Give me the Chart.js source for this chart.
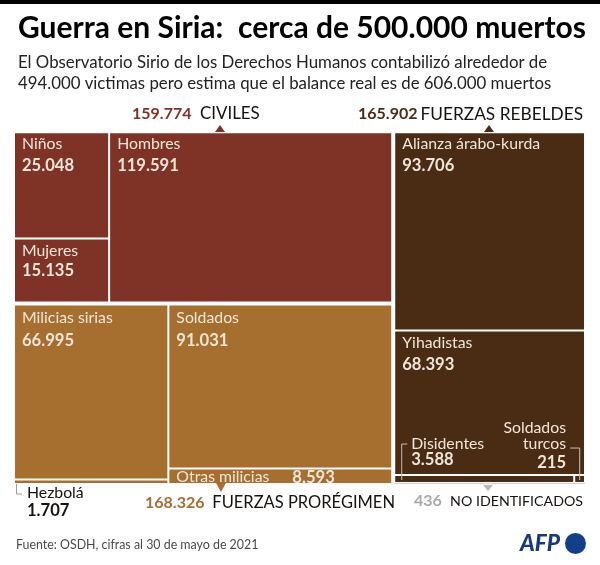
<!DOCTYPE html>
<html lang="es"><head><meta charset="utf-8">
<style>html,body{margin:0;padding:0;background:#fff}canvas{display:block}</style>
<script src="https://cdn.jsdelivr.net/npm/chart.js@4/dist/chart.umd.js"></script>
</head><body><canvas id="c" width="600" height="565"></canvas>
<script>
const titleText = 'Guerra en Siria:  cerca de 500.000 muertos';
const subtitleLines = ['El Observatorio Sirio de los Derechos Humanos contabilizó alrededor de',
                       '494.000 victimas pero estima que el balance real es de 606.000 muertos'];
const sourceText = 'Fuente: OSDH, cifras al 30 de mayo de 2021';

const civilesLabels = ['Niños', 'Mujeres', 'Hombres'];
const civilesValues = [25048, 15135, 119591];
const proregimenLabels = ['Milicias sirias', 'Soldados', 'Otras milicias', 'Hezbolá'];
const proregimenValues = [66995, 91031, 8593, 1707];
const rebeldesLabels = ['Alianza árabo-kurda', 'Yihadistas', 'Disidentes', 'Soldados turcos'];
const rebeldesValues = [93706, 68393, 3588, 215];
const noIdentLabels = ['No identificados'];
const noIdentValues = [436];

const sum = a => a.reduce((s, v) => s + v, 0);
const fmt = v => String(v).replace(/\B(?=(\d{3})+$)/g, '.');

/* slice helpers: the treemap geometry comes only from the values */
const hcut = (r, f) => [{x0:r.x0, x1:r.x0+(r.x1-r.x0)*f, y0:r.y0, y1:r.y1}, {x0:r.x0+(r.x1-r.x0)*f, x1:r.x1, y0:r.y0, y1:r.y1}];
const vcut = (r, f) => [{x0:r.x0, x1:r.x1, y0:r.y0, y1:r.y0+(r.y1-r.y0)*f}, {x0:r.x0, x1:r.x1, y0:r.y0+(r.y1-r.y0)*f, y1:r.y1}];
const GX = 1/573, GY = 1/355;                 /* white gutter around each group */
const inset = r => ({x0:r.x0+GX, x1:r.x1-GX, y0:r.y0+GY, y1:r.y1-GY});

const [C, P, R, N] = [sum(civilesValues), sum(proregimenValues), sum(rebeldesValues), sum(noIdentValues)];
const [leftR, rightR] = hcut({x0:0, x1:1, y0:0, y1:1}, (C+P)/(C+P+R+N));
const [civO, proO] = vcut(leftR, C/(C+P));
const civR = inset(civO), proR = inset(proO), rightI = inset(rightR);
const [rebR, nidR] = vcut(rightI, R/(R+N));

const [cv1, hombresR] = hcut(civR, (civilesValues[0]+civilesValues[1])/C);
const [ninosR, mujeresR] = vcut(cv1, civilesValues[0]/(civilesValues[0]+civilesValues[1]));

const milHez = proregimenValues[0]+proregimenValues[3];
const [pc1, pc2] = hcut(proR, milHez/P);
const [milR, hezR] = vcut(pc1, proregimenValues[0]/milHez);
const [solR, otrR] = vcut(pc2, proregimenValues[1]/(proregimenValues[1]+proregimenValues[2]));

const [aliR, rb2] = vcut(rebR, rebeldesValues[0]/R);
const [yihR, rb3] = vcut(rb2, rebeldesValues[1]/(R-rebeldesValues[0]));
const [disR, turR] = hcut(rb3, rebeldesValues[2]/(rebeldesValues[2]+rebeldesValues[3]));

class TreemapController extends Chart.DatasetController {
  update(mode){ const m=this._cachedMeta; this.updateElements(m.data,0,m.data.length,mode); }
  updateElements(rects,start,count,mode){
    const m=this._cachedMeta, xs=m.xScale, ys=m.yScale, data=this.getDataset().data;
    for(let i=start;i<start+count;i++){
      const d=data[i], l=xs.getPixelForValue(d.x0), r=xs.getPixelForValue(d.x1),
            t=ys.getPixelForValue(d.y0), b=ys.getPixelForValue(d.y1);
      this.updateElement(rects[i],i,{x:(l+r)/2,y:t,base:b,width:r-l,height:b-t,horizontal:false,
        inflateAmount:0,enableBorderRadius:false,borderSkipped:{},
        options:this.resolveDataElementOptions(i,mode)},mode);
    }
  }
}
TreemapController.id='treemap';
TreemapController.defaults={dataElementType:'bar',datasetElementType:false};
Chart.register(TreemapController);

const INK='#16120f', PALE='#efe6da';
const CIV='#7f3326', PRO='#a76f2f', REB='#4a2c14', GREY='#a9a9a9';

function put(ctx,txt,x,y,font,color,align){
  ctx.font=font; ctx.fillStyle=color; ctx.textAlign=align||'left'; ctx.textBaseline='middle';
  ctx.fillText(txt,x,y);
}
const REG='15.8px Lato', BOLD='bold 16.6px Lato', GRPB='bold 16px Lato';

const overlay={id:'overlay',
  beforeDraw(ch){
    const c=ch.ctx; c.save(); c.fillStyle='#fff'; c.fillRect(0,0,600,565);
    c.fillStyle='#000'; c.fillRect(0,0,600,4); c.restore();
  },
  afterLayout(ch){ ch.boxes.forEach(b=>{ if(b.options&&b.options.text!==undefined&&b.left!==undefined) b.left=18; }); },
  afterDatasetsDraw(ch){
    const c=ch.ctx; c.save();
    const cell=(di,i)=>{const e=ch.getDatasetMeta(di).data[i];return {l:e.x-e.width/2,r:e.x+e.width/2,t:e.y,b:e.base};};
    const two=(di,i,name,val,dn,dv)=>{const q=cell(di,i),x=q.l+8;
      put(c,name,x,q.t+dn,REG,PALE); put(c,val,x,q.t+dv,BOLD,PALE);};
    two(0,0,civilesLabels[0],fmt(civilesValues[0]),12,33);
    two(0,2,civilesLabels[2],fmt(civilesValues[2]),12,33);
    two(0,1,civilesLabels[1],fmt(civilesValues[1]),13,32);
    two(1,0,proregimenLabels[0],fmt(proregimenValues[0]),13,36);
    two(1,1,proregimenLabels[1],fmt(proregimenValues[1]),13,36);
    let q=cell(1,2); put(c,proregimenLabels[2],q.l+8,q.t+8,REG,PALE); put(c,fmt(proregimenValues[2]),q.l+124,q.t+9,BOLD,PALE);
    two(2,0,rebeldesLabels[0],fmt(rebeldesValues[0]),12,33);
    two(2,1,rebeldesLabels[1],fmt(rebeldesValues[1]),12,34);
    /* small cells with leaders */
    q=cell(2,2);
    c.strokeStyle='#cbbfb0'; c.lineWidth=1; c.beginPath();
    c.moveTo(q.l+7.5,q.b-3); c.lineTo(q.l+7.5,q.t-31); c.lineTo(q.l+13,q.t-31); c.stroke();
    put(c,rebeldesLabels[2],q.l+17,q.t-31,REG,PALE); put(c,fmt(rebeldesValues[2]),q.l+17,q.t-15,BOLD,PALE);
    q=cell(2,3);
    c.beginPath(); c.moveTo(q.l+5.5,q.b-3); c.lineTo(q.l+5.5,q.t-27); c.lineTo(q.l-4,q.t-27); c.stroke();
    put(c,'Soldados',q.r-19,q.t-47,REG,PALE,'right'); put(c,'turcos',q.r-19,q.t-31,REG,PALE,'right');
    put(c,fmt(rebeldesValues[3]),q.r-19,q.t-12,BOLD,PALE,'right');
    /* Hezbolá, outside */
    q=cell(1,3);
    c.strokeStyle='#9a9a9a'; c.beginPath(); c.moveTo(q.l+2.5,q.b); c.lineTo(q.l+2.5,q.b+10); c.lineTo(q.l+8,q.b+10); c.stroke();
    put(c,proregimenLabels[3],27,493,REG,INK); put(c,fmt(proregimenValues[3]),27,511,BOLD,INK);
    /* group headers with their pointers */
    const tri=(x,y0,y1,col)=>{c.fillStyle=col;c.beginPath();c.moveTo(x-5,y0);c.lineTo(x+5,y0);c.lineTo(x,y1);c.closePath();c.fill();};
    tri(220,132,125,CIV); tri(489,132,125,REB); tri(221,483,492,PRO); tri(488,485,491,'#b9b9b9');
    put(c,fmt(C),132,114,GRPB,CIV); put(c,'CIVILES',200,114,'16.9px Lato',INK);
    put(c,fmt(R),358,114,GRPB,REB); put(c,'FUERZAS REBELDES',583,114,'17.3px Lato',INK,'right');
    put(c,fmt(P),145,503,GRPB,PRO); put(c,'FUERZAS PRORÉGIMEN',395,503,'16.5px Lato',INK,'right');
    put(c,fmt(N),414,501,GRPB,GREY); put(c,'NO IDENTIFICADOS',583,501,'14.2px Lato',INK,'right');
    /* footer */
    put(c,sourceText,16,545,'12.4px Lato','#4a4a4a');
    put(c,'AFP',520,544,'italic 900 22.5px Lato','#173a78');
    c.fillStyle='#123f85'; c.beginPath(); c.arc(575.5,543.5,10.5,0,Math.PI*2); c.fill();
    c.restore();
  }
};

new Chart(document.getElementById('c'),{
  type:'treemap',
  data:{datasets:[
    {label:'Civiles',data:[ninosR,mujeresR,hombresR],backgroundColor:CIV,borderWidth:1},
    {label:'Fuerzas prorégimen',data:[milR,solR,otrR,hezR],backgroundColor:PRO,borderWidth:1},
    {label:'Fuerzas rebeldes',data:[aliR,yihR,disR,turR],backgroundColor:REB,borderWidth:1},
    {label:'No identificados',data:[nidR],backgroundColor:'#d8cfc8',borderWidth:0}
  ].map(d=>({...d,parsing:false,borderColor:'#fff'}))},
  options:{
    responsive:false,animation:false,events:[],
    layout:{padding:{left:13,right:14,top:0,bottom:80}},
    scales:{x:{type:'linear',display:false,min:0,max:1},
            y:{type:'linear',display:false,min:0,max:1,reverse:true}},
    plugins:{
      legend:{display:false},tooltip:{enabled:false},
      title:{display:true,text:titleText,align:'start',color:'#000',
             font:{family:'Lato',size:30.2,weight:'bold',lineHeight:1.2},padding:{top:10,bottom:6}},
      subtitle:{display:true,text:subtitleLines,align:'start',color:'#222',
             font:{family:'Lato',size:16.8,weight:'normal',lineHeight:1.25},padding:{top:0,bottom:37}}
    }
  },
  plugins:[overlay]
});
</script></body></html>
